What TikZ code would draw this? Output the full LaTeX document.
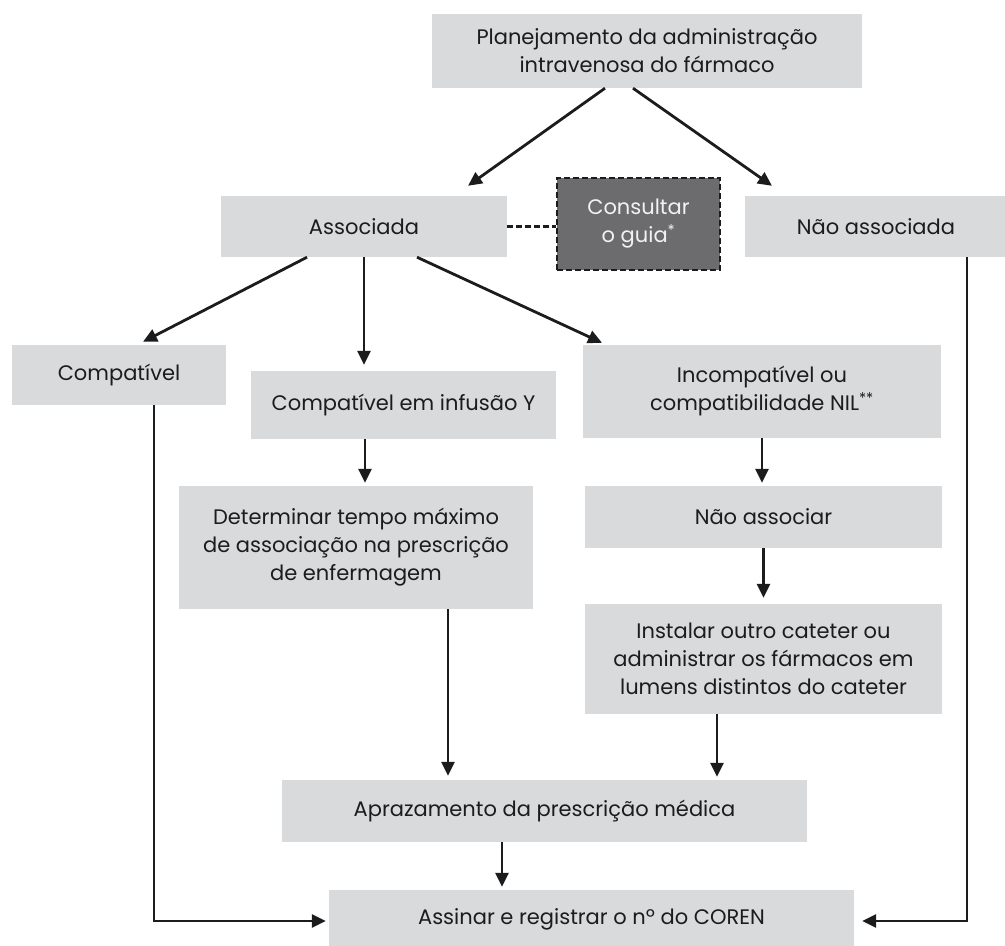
\documentclass[tikz,border=0pt]{standalone}
\usepackage{fontspec}
\setmainfont{Poppins}
\usetikzlibrary{arrows.meta}

\definecolor{boxgray}{RGB}{217,218,220}
\definecolor{guidegray}{RGB}{108,108,110}
\definecolor{inkgray}{RGB}{28,28,28}

\tikzset{
  flowbox/.style={fill=boxgray, inner sep=0pt, align=center,
    text=inkgray, font=\fontsize{21}{28}\selectfont},
  guidebox/.style={flowbox, fill=guidegray, draw=inkgray, text=white!95!black,
    line width=2.2pt, dash pattern=on 6pt off 3pt},
  flow/.style={draw=inkgray, line width=2.8pt,
    -{Triangle[length=14pt,width=13pt]}},
  link/.style={draw=inkgray, line width=2.6pt, dash pattern=on 6pt off 3pt}
}

\begin{document}
\begin{tikzpicture}[x=1pt, y=-1pt]
    \useasboundingbox (0,0) rectangle (1005,946);

    % boxes
    \node[flowbox, minimum width=430, minimum height=74] (plan) at (647,51)
        {Planejamento da administração\\intravenosa do fármaco};
    \node[flowbox, minimum width=286, minimum height=61] (assoc) at (364,226.5)
        {Associada};
    \node[guidebox, minimum width=163, minimum height=92] (guide) at (638.5,224)
        {Consultar\\o guia\textsuperscript{*}};
    \node[flowbox, minimum width=262, minimum height=61] (nassoc) at (876,226.5)
        {Não associada};

    \node[flowbox, minimum width=214, minimum height=60] (compat) at (119,375)
        {Compatível};
    \node[flowbox, minimum width=305, minimum height=68] (infy) at (403.5,405)
        {Compatível em infusão Y};
    \node[flowbox, minimum width=358, minimum height=93] (incomp) at (762,391.5)
        {Incompatível ou\\compatibilidade NIL\textsuperscript{**}};

    \node[flowbox, minimum width=354, minimum height=123] (determ) at (356,547.5)
        {Determinar tempo máximo\\de associação na prescrição\\de enfermagem};
    \node[flowbox, minimum width=357, minimum height=62] (naoassoc) at (763.5,517)
        {Não associar};
    \node[flowbox, minimum width=357, minimum height=110] (instal) at (763.5,659)
        {Instalar outro cateter ou\\administrar os fármacos em\\lumens distintos do cateter};

    \node[flowbox, minimum width=525, minimum height=62] (apraz) at (544.5,811)
        {Aprazamento da prescrição médica};
    \node[flowbox, minimum width=525, minimum height=58] (sign) at (591.5,919)
        {Assinar e registrar o nº do COREN};

    % connectors
    \draw[flow] ([xshift=-42pt]plan.south) -- ([shift={(104pt,10pt)}]assoc.north);
    \draw[flow] ([xshift=-14pt]plan.south) -- ([shift={(-104pt,10pt)}]nassoc.north);
    \draw[link] (assoc.east) -- (assoc.east -| guide.west);

    \draw[flow] ([xshift=-57pt]assoc.south) -- ([shift={(24pt,3pt)}]compat.north);
    \draw[flow, shorten >=6pt] (assoc.south) -- (assoc.south |- infy.north);
    \draw[flow] ([xshift=53pt]assoc.south) -- ([shift={(-160pt,2pt)}]incomp.north);

    \draw[flow, shorten >=3pt] ([xshift=-38.5pt]infy.south) -- ([xshift=9pt]determ.north);
    \draw[flow, shorten >=3pt] (incomp.south) -- (incomp.south |- naoassoc.north);
    \draw[flow, shorten >=6pt] (naoassoc.south) -- (naoassoc.south |- instal.north);

    \draw[flow, shorten >=4pt] ([xshift=92pt]determ.south) -- ([xshift=-96.5pt]apraz.north);
    \draw[flow, shorten >=3pt] ([xshift=-46.5pt]instal.south) -- ([xshift=172.5pt]apraz.north);
    \draw[flow, shorten >=3pt] ([xshift=-42.5pt]apraz.south) -- ([xshift=-89.5pt]sign.north);

    \draw[flow, shorten >=3pt] ([xshift=35pt]compat.south) |- ([yshift=-2pt]sign.west);
    \draw[flow, shorten >=8pt] ([xshift=91pt]nassoc.south) |- ([yshift=-2pt]sign.east);
\end{tikzpicture}
\end{document}
